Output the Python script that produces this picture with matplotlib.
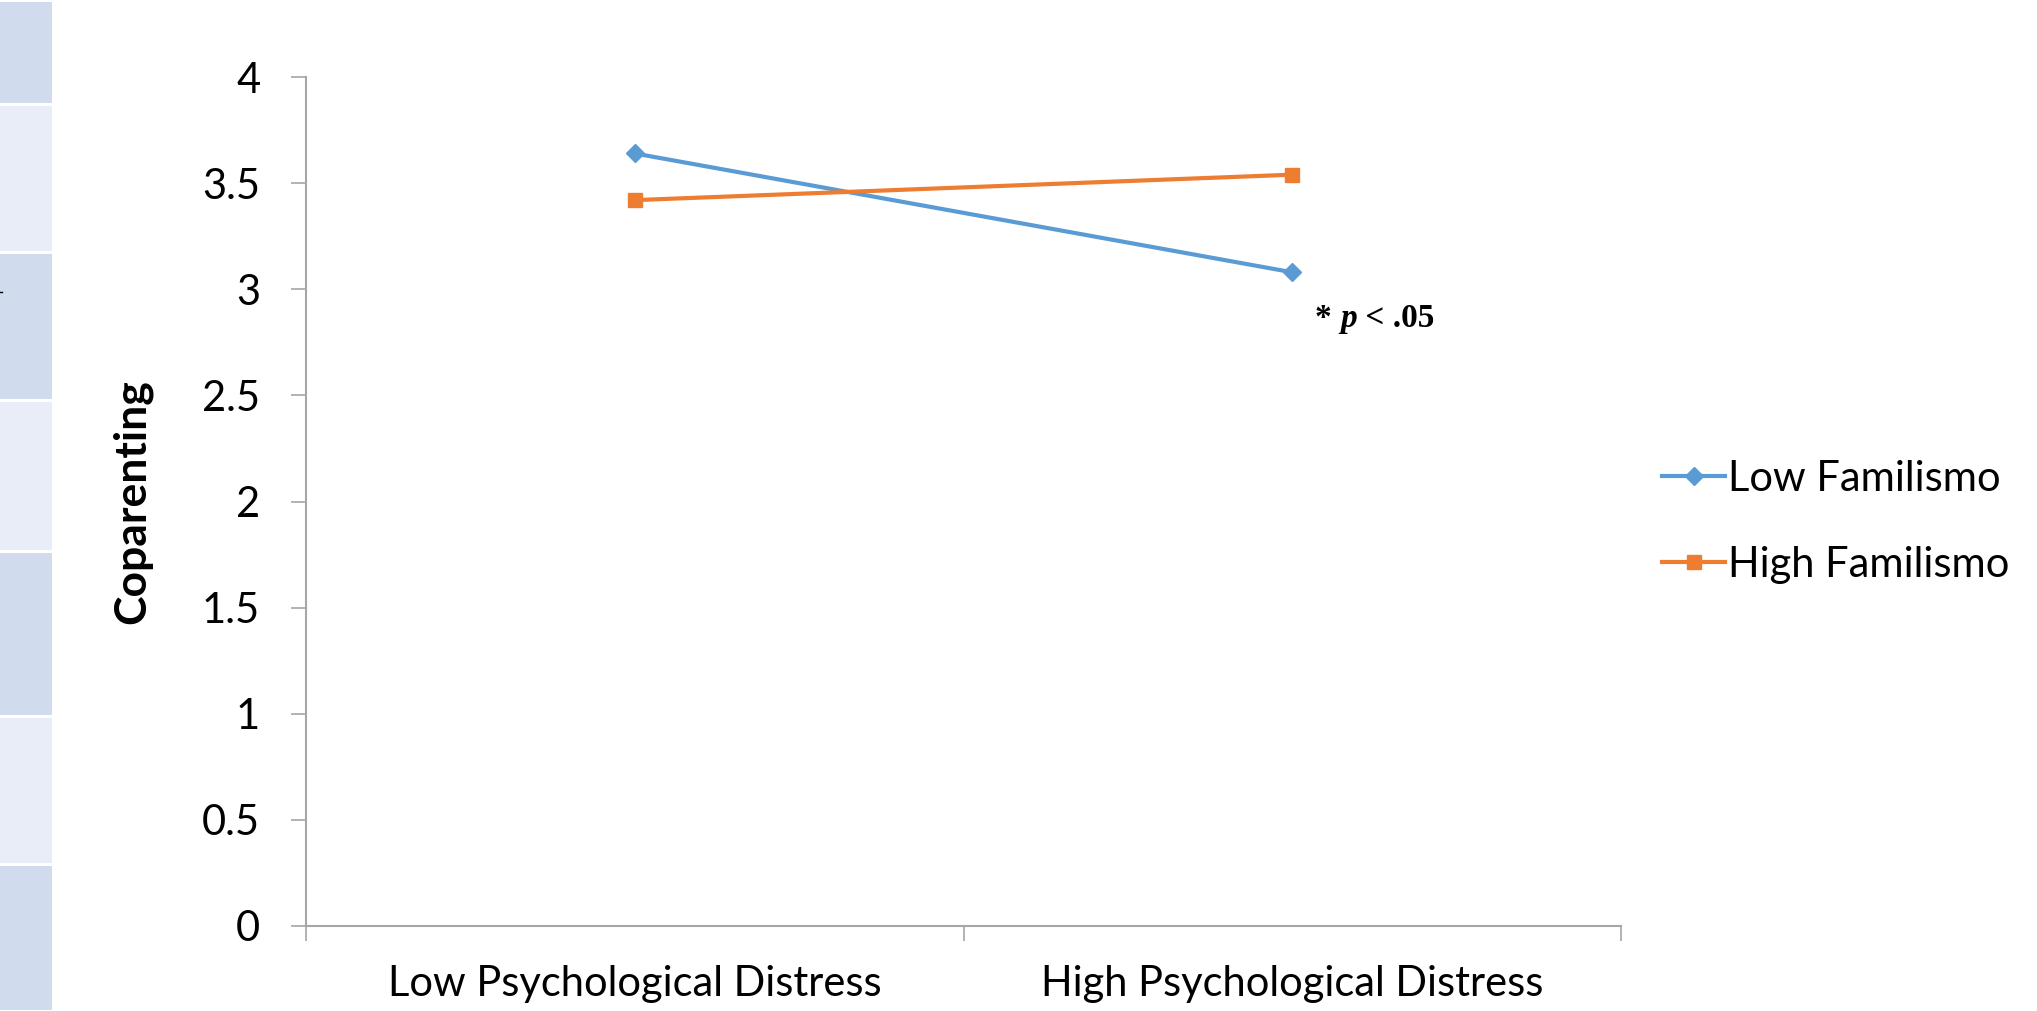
import matplotlib
matplotlib.use("Agg")
import matplotlib.pyplot as plt
from matplotlib.patches import Rectangle

# donnees
categories = ["Low Psychological Distress", "High Psychological Distress"]
low_familismo = [3.64, 3.08]
high_familismo = [3.42, 3.54]
yticks = [0, 0.5, 1, 1.5, 2, 2.5, 3, 3.5, 4]
ytick_labels = ["0", "0.5", "1", "1.5", "2", "2.5", "3", "3.5", "4"]

BLUE = "#5B9BD5"
ORANGE = "#ED7D31"
GRAY = "#A6A6A6"
FONT = "Lato"
SERIF = "Liberation Serif"

fig = plt.figure(figsize=(20.37, 10.11), dpi=100)
ax = fig.add_axes([0.1502, 0.0841, 0.6456, 0.8397])

# bande de cellules a gauche (morceau de tableau)
cells = [(0, 104), (104, 252), (252, 400), (400, 551), (551, 716), (716, 864), (864, 1011)]
for i, (y0, y1) in enumerate(cells):
    col = "#D0DCEE" if i % 2 == 0 else "#E8EDF7"
    fig.patches.append(Rectangle((0, 1 - (y1 - 1) / 1011), 52 / 2037, (y1 - y0 - 3) / 1011,
                                 transform=fig.transFigure, facecolor=col, edgecolor="none"))
fig.add_artist(plt.Line2D([0, 2 / 2037], [1 - 292 / 1011, 1 - 292 / 1011],
                          transform=fig.transFigure, color="black", lw=1))

x = [0.5, 1.5]
ax.plot(x, low_familismo, color=BLUE, lw=3, marker="D", markersize=9, label="Low Familismo")
ax.plot(x, high_familismo, color=ORANGE, lw=3, marker="s", markersize=10, label="High Familismo")

ax.set_xlim(0, 2)
ax.set_ylim(0, 4)
ax.set_yticks(yticks)
ax.set_yticklabels(ytick_labels, fontsize=30, fontfamily=FONT)
ax.set_xticks([0, 1, 2])
ax.set_xticklabels([])
ax.set_xticks(x, minor=True)
ax.set_xticklabels(categories, minor=True, fontsize=30, fontfamily=FONT)
ax.tick_params(axis="x", which="minor", length=0, pad=28)
ax.tick_params(axis="x", which="major", length=11, width=1.2, color=GRAY, direction="out")
ax.tick_params(axis="y", length=11, width=1.2, color=GRAY, direction="out", pad=22)

for s in ["top", "right"]:
    ax.spines[s].set_visible(False)
for s in ["left", "bottom"]:
    ax.spines[s].set_color(GRAY)
    ax.spines[s].set_linewidth(1.5)

ax.set_ylabel("Coparenting", fontsize=32, fontweight="bold", fontfamily=FONT, labelpad=36)

# note "* p < .05" en Times gras, p en italique
t1 = ax.text(1.535, 2.82, "* ", fontsize=24, fontweight="bold", fontfamily=SERIF, va="baseline")
t2 = ax.annotate("p", xy=(1, 2.82), xycoords=(t1, "data"), fontsize=24, fontweight="bold",
                 fontstyle="italic", fontfamily=SERIF, va="baseline")
ax.annotate(" < .05", xy=(1, 2.82), xycoords=(t2, "data"), fontsize=24, fontweight="bold",
            fontfamily=SERIF, va="baseline")

leg = ax.legend(loc="center left", bbox_to_anchor=(1.003, 0.476), frameon=False,
                prop={"family": FONT, "size": 30}, handlelength=1.5, handletextpad=0.08,
                labelspacing=1.15)

plt.savefig("out.png", dpi=100)
